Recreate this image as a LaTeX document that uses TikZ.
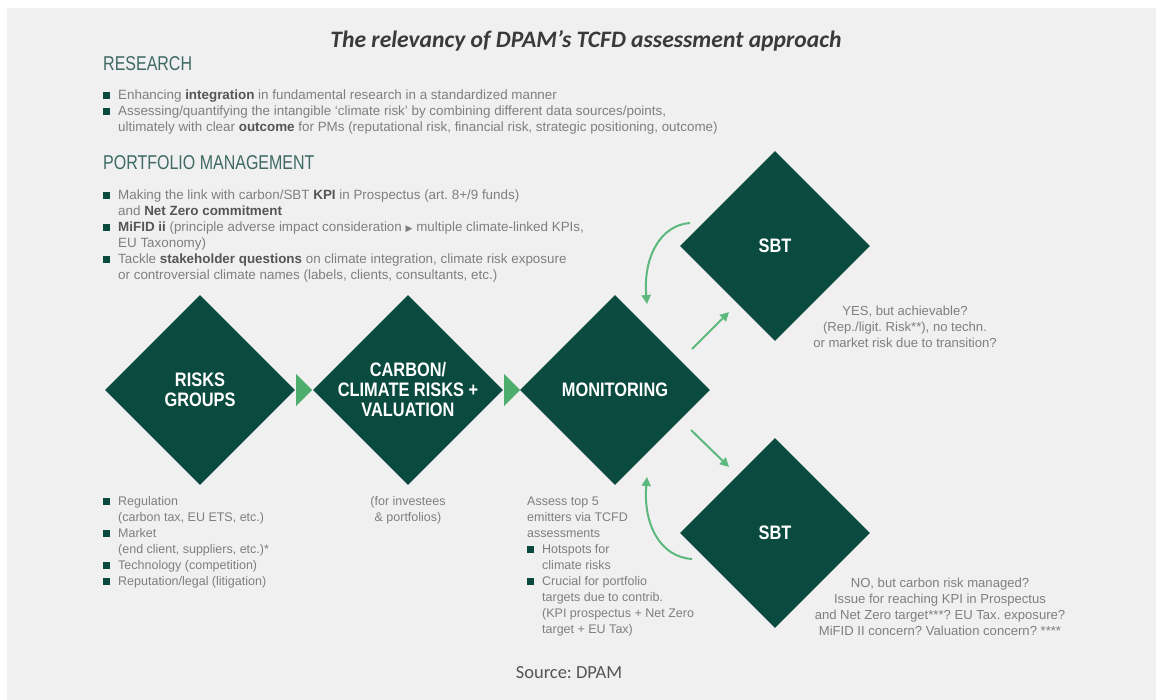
\documentclass[tikz,border=0pt]{standalone}
\usepackage{fontspec}
\setmainfont{Liberation Sans}
\newfontfamily\titlefont{Carlito}
\newfontfamily\headfont{Liberation Sans}[FakeStretch=0.8]
\newfontfamily\diafont{Liberation Sans}[FakeStretch=0.84]
\newfontfamily\symfont{DejaVu Sans}
\usetikzlibrary{shapes.geometric,arrows.meta}
\frenchspacing

\definecolor{dgreen}{HTML}{0A4A3F}
\definecolor{lgreen}{HTML}{5DB87D}
\definecolor{tgreen}{HTML}{4DAE6C}
\definecolor{bggray}{HTML}{F0F0F0}
\definecolor{txtgray}{HTML}{7F7F7F}
\definecolor{txtdark}{HTML}{555555}
\definecolor{headgreen}{HTML}{3E6A63}
\definecolor{titlegray}{HTML}{3A3A3A}

% bullet square, hanging indent and bold highlight
\newcommand\bl{\makebox[15pt][l]{\textcolor{dgreen}{\rule{7pt}{7pt}}}}
\newcommand\ind{\hspace*{15pt}}
\newcommand\hl[1]{{\bfseries\color{txtdark}#1}}
\newcommand\fstrut{\rule{0pt}{10pt}}

\begin{document}
\begin{tikzpicture}[x=1pt,y=-1pt,
  dia/.style={shape=diamond, aspect=1, fill=dgreen, minimum width=190pt,
    minimum height=190pt, inner sep=0pt},
  diatext/.style={font=\diafont\bfseries\fontsize{19.5}{20}\selectfont,
    text=white, align=center, inner sep=0pt},
  body/.style={font=\fontsize{12.5}{16}\selectfont, text=txtgray,
    align=left, inner sep=0pt, anchor=north west},
  bodylarge/.style={body, font=\fontsize{13.4}{16}\selectfont},
  note/.style={font=\fontsize{12.5}{16}\selectfont, text=txtgray,
    align=center, inner sep=0pt, anchor=north},
  notelarge/.style={note, font=\fontsize{13.1}{16}\selectfont},
  head/.style={font=\headfont\fontsize{20}{24}\selectfont, text=headgreen,
    inner sep=0pt, anchor=base west},
  garrow/.style={draw=lgreen, line width=2pt,
    -{Triangle[length=9pt,width=9pt]}},
  flow/.style={fill=tgreen}
]
% canvas
\useasboundingbox (0,0) rectangle (1156,700);
\fill[white] (0,0) rectangle (1156,700);
\fill[bggray] (7,8) rectangle (1156,700);

% title and source
\node[font=\titlefont\bfseries\itshape\fontsize{23.6}{26}\selectfont,
  text=titlegray, inner sep=0pt, anchor=base] (title) at (586,48)
  {The relevancy of DPAM’s TCFD assessment approach};
\node[font=\titlefont\fontsize{18.5}{20}\selectfont, text=txtdark,
  inner sep=0pt, anchor=base] (source) at (569,678) {Source: DPAM};

% research
\node[head] (research) at (103,71) {RESEARCH};
\node[bodylarge] (researchlist) at (103,89) {\fstrut\bl Enhancing \hl{integration} in fundamental research in a standardized manner\\
\bl Assessing/quantifying the intangible ‘climate risk’ by combining different data sources/points,\\
\ind ultimately with clear \hl{outcome} for PMs (reputational risk, financial risk, strategic positioning, outcome)};

% portfolio management
\node[head] (pm) at (103,170) {PORTFOLIO MANAGEMENT};
\node[bodylarge] (pmlist) at (103,189) {\fstrut\bl Making the link with carbon/SBT \hl{KPI} in Prospectus (art. 8+/9 funds)\\
\ind and \hl{Net Zero commitment}\\
\bl \hl{MiFID ii} (principle adverse impact consideration {\symfont\fontsize{9}{9}\selectfont ▶} multiple climate-linked KPIs,\\
\ind EU Taxonomy)\\
\bl Tackle \hl{stakeholder questions} on climate integration, climate risk exposure\\
\ind or controversial climate names (labels, clients, consultants, etc.)};

% diamonds
\node[dia] (risk) at (200,390) {};
\node[dia] (carbon) at (408,390) {};
\node[dia] (monitor) at (615,390) {};
\node[dia] (sbtyes) at (775,246) {};
\node[dia] (sbtno) at (775,533) {};

\node[diatext] (riskT) at (risk.center) {RISKS\\GROUPS};
\node[diatext] (carbonT) at (carbon.center) {CARBON/\\CLIMATE RISKS +\\VALUATION};
\node[diatext] (monitorT) at (monitor.center) {MONITORING};
\node[diatext] (sbtyesT) at (sbtyes.center) {SBT};
\node[diatext] (sbtnoT) at (sbtno.center) {SBT};

% flow triangles between the diamonds
\fill[flow] ([xshift=1pt,yshift=-16pt]risk.east) -- ([xshift=17pt]risk.east)
  -- ([xshift=1pt,yshift=16pt]risk.east) -- cycle;
\fill[flow] ([xshift=1pt,yshift=-16pt]carbon.east) -- ([xshift=17pt]carbon.east)
  -- ([xshift=1pt,yshift=16pt]carbon.east) -- cycle;

% feedback and branch arrows
\coordinate (yesfrom) at (690,223);
\coordinate (yesto) at (647,304);
\coordinate (upfrom) at (692,349);
\coordinate (upto) at (729,312);
\coordinate (downfrom) at (691,430);
\coordinate (downto) at (729,467);
\coordinate (nofrom) at (692,559);
\coordinate (noto) at (647,477);
\draw[garrow] (yesfrom) .. controls (660,225) and (643,258) .. (yesto);
\draw[garrow] (upfrom) -- (upto);
\draw[garrow] (downfrom) -- (downto);
\draw[garrow] (nofrom) .. controls (660,557) and (643,524) .. (noto);

% texts below the diamonds
\node[body] (risklist) at (103,495) {\fstrut\bl Regulation\\
\ind (carbon tax, EU ETS, etc.)\\
\bl Market\\
\ind (end client, suppliers, etc.)*\\
\bl Technology (competition)\\
\bl Reputation/legal (litigation)};

\node[note] (carbonnote) at (408,495) {\fstrut(for investees\\ \& portfolios)};

\node[body] (monitorlist) at (527,495) {\fstrut Assess top 5\\
emitters via TCFD\\
assessments\\
\bl Hotspots for\\
\ind climate risks\\
\bl Crucial for portfolio\\
\ind targets due to contrib.\\
\ind (KPI prospectus + Net Zero\\
\ind target + EU Tax)};

\node[notelarge] (yesnote) at (905,305) {\fstrut YES, but achievable?\\
(Rep./ligit. Risk**), no techn.\\
or market risk due to transition?};

\node[notelarge] (nonote) at (940,577) {\fstrut NO, but carbon risk managed?\\
Issue for reaching KPI in Prospectus\\
and Net Zero target***? EU Tax. exposure?\\
MiFID II concern? Valuation concern? ****};
\end{tikzpicture}
\end{document}
